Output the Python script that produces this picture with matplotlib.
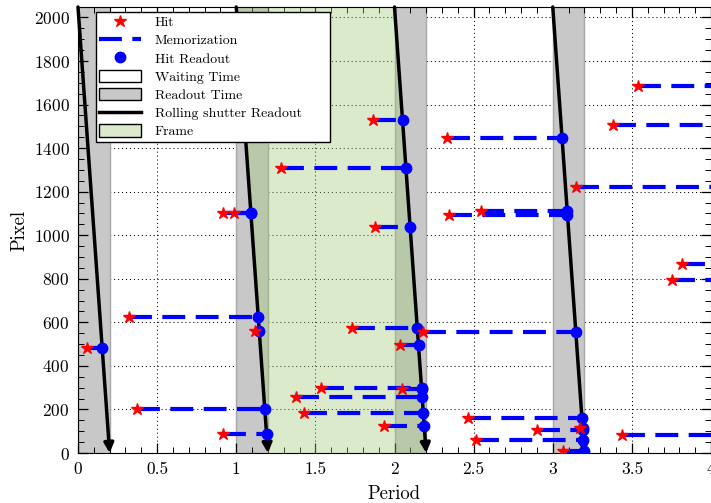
import matplotlib
matplotlib.use('Agg')
import matplotlib.pyplot as plt
from matplotlib.lines import Line2D
from matplotlib.patches import Patch, Polygon

plt.rcParams['font.family'] = 'serif'
plt.rcParams['font.serif'] = ['cmr10']
plt.rcParams['mathtext.fontset'] = 'cm'
plt.rcParams['axes.formatter.use_mathtext'] = True

# sensor / readout set-up
n_pixels = 2048
readout_starts = [0, 1, 2, 3]
readout_length = 0.2
frame_between = (1, 2)

# hits: when they happened, on which pixel row, and when they were read out
hit_period = [0.057, 0.322, 0.373, 0.916, 0.916, 0.986, 1.118, 1.283, 1.864,
              1.877, 1.731, 2.035, 1.536, 2.047, 1.378, 1.428, 1.934, 2.180,
              2.332, 2.344, 2.547, 2.464, 2.900, 3.172, 2.515, 3.065, 3.147,
              3.381, 3.539, 3.754, 3.817, 3.438]
hit_pixel = [481, 623, 202, 87, 1104, 1104, 559, 1310, 1530,
             1036, 573, 495, 298, 293, 257, 183, 124, 554,
             1448, 1095, 1113, 160, 105, 115, 60, 9, 1223,
             1507, 1686, 793, 866, 82]
readout_period = [0.153, 1.139, 1.180, 1.192, 1.092, 1.092, 1.145, 2.072, 2.051,
                  2.099, 2.144, 2.152, 2.171, 2.171, 2.175, 2.182, 2.188, 3.146,
                  3.059, 3.093, 3.091, 3.184, 3.190, 3.189, 3.194, 3.199, 4.081,
                  4.053, 4.035, 4.123, 4.115, 4.192]

x_ticks = [0, 0.5, 1, 1.5, 2, 2.5, 3, 3.5, 4]
x_labels = ['0', '0.5', '1', '1.5', '2', '2.5', '3', '3.5', '4']
y_ticks = list(range(0, 2001, 200))

gray = '#c8c8c8'
green = (0.627, 0.784, 0.463)
green_alpha = 0.38

fig = plt.figure(figsize=(7.11, 5.03), dpi=100)
ax = fig.add_axes([78 / 711, 50 / 503, 633 / 711, 446 / 503])

# dotted grid, kept under the readout bands
for t in x_ticks:
    ax.axvline(t, color='k', lw=0.75, ls=(0, (1, 2.8)), zorder=0.5)
for p in y_ticks:
    ax.axhline(p, color='k', lw=0.75, ls=(0, (1, 2.8)), zorder=0.5)

# readout time bands
for k in readout_starts:
    ax.axvspan(k, k + readout_length, facecolor=gray, edgecolor='#a8a8a8',
               lw=1, zorder=1)

# frame between two rolling shutter passes
a, b = frame_between
frame = Polygon([(a, n_pixels), (a + readout_length, 0),
                 (b + readout_length, 0), (b, n_pixels)],
                closed=True, facecolor=green, alpha=green_alpha,
                edgecolor='none', zorder=2)
ax.add_patch(frame)

# rolling shutter readout lines
for k in readout_starts:
    ax.annotate('', xy=(k + readout_length, 0), xytext=(k, n_pixels),
                arrowprops=dict(arrowstyle='-|>', lw=2.5, color='k',
                                mutation_scale=14, shrinkA=0, shrinkB=0),
                annotation_clip=False, zorder=3)

# memorization from hit to readout
for tp, px, tr in zip(hit_period, hit_pixel, readout_period):
    ax.plot([tp, tr], [px, px], color='#0000ff', lw=3, dashes=(5.5, 2.5),
            zorder=4)
ax.plot(readout_period, hit_pixel, 'o', color='#0000ff', ms=7.5, zorder=5)
ax.plot(hit_period, hit_pixel, '*', color='#ff0000', ms=9, zorder=6)

ax.set_xlim(0, 4)
ax.set_ylim(0, n_pixels)
ax.set_xticks(x_ticks)
ax.set_xticklabels(x_labels)
ax.set_yticks(y_ticks)
ax.set_xticks([i / 10 for i in range(41)], minor=True)
ax.set_yticks(list(range(0, 2049, 50)), minor=True)
ax.tick_params(which='both', direction='in', top=True, right=True,
               labelsize=12.5, pad=6)
ax.tick_params(which='major', length=7, width=0.9)
ax.tick_params(which='minor', length=4, width=0.7)
ax.set_xlabel('Period', fontsize=13.5, labelpad=6)
ax.set_ylabel('Pixel', fontsize=13.5, labelpad=4)

handles = [
    Line2D([], [], marker='*', color='#ff0000', ls='none', ms=9),
    Line2D([], [], color='#0000ff', lw=3, dashes=(5.5, 2.5)),
    Line2D([], [], marker='o', color='#0000ff', ls='none', ms=7.5),
    Patch(facecolor='white', edgecolor='k'),
    Patch(facecolor=gray, edgecolor='k'),
    Line2D([], [], color='k', lw=2.5),
    Patch(facecolor=(0.859, 0.918, 0.796), edgecolor='k'),
]
labels = ['Hit', 'Memorization', 'Hit Readout', 'Waiting Time',
          'Readout Time', 'Rolling shutter Readout', 'Frame']
leg = ax.legend(handles, labels, loc='upper left',
                bbox_to_anchor=(0.028, 0.0, 0.37, 0.989), mode='expand',
                borderaxespad=0, fontsize=10, fancybox=False, framealpha=1,
                edgecolor='k', handlelength=3, handleheight=1.0,
                labelspacing=0.3, borderpad=0.25, handletextpad=1.0)
leg.set_zorder(10)
leg.get_frame().set_linewidth(1)

plt.savefig('out.png', dpi=100)
